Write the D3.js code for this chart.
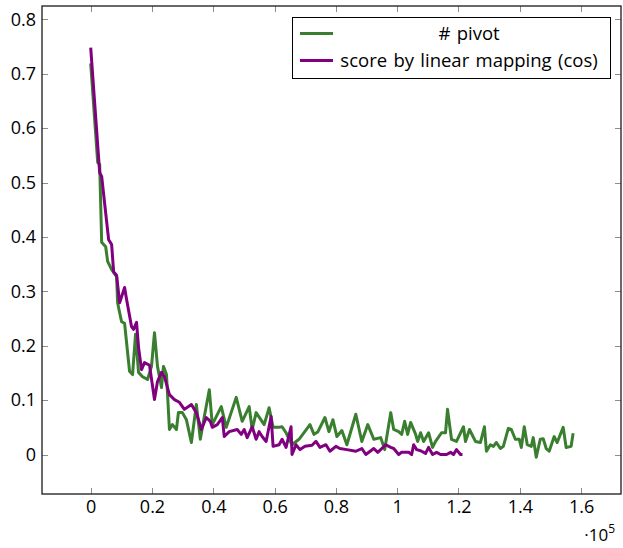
<!DOCTYPE html>
<html><head><meta charset="utf-8">
<script src="https://cdn.jsdelivr.net/npm/d3@7"></script>
<style>body{margin:0;background:#fff}svg{display:block}text{font-family:"Open Sans",sans-serif}</style>
</head><body><svg id="c" width="623" height="548"></svg>
<script>
const seriesNames = ["# pivot", "score by linear mapping (cos)"];
const seriesColors = ["#3a7f30", "#800080"];
const xTicks = [0, 20000, 40000, 60000, 80000, 100000, 120000, 140000, 160000];
const xTickLabels = ["0", "0.2", "0.4", "0.6", "0.8", "1", "1.2", "1.4", "1.6"];
const yTicks = [0, 0.1, 0.2, 0.3, 0.4, 0.5, 0.6, 0.7, 0.8];
const yTickLabels = ["0", "0.1", "0.2", "0.3", "0.4", "0.5", "0.6", "0.7", "0.8"];
const pivot = [[0,0.719],[2280,0.537],[2930,0.533],[3580,0.390],[4880,0.382],[5530,0.355],[6830,0.340],[7480,0.335],[8460,0.327],[8780,0.279],[9430,0.261],[10080,0.244],[11060,0.241],[12030,0.188],[12680,0.153],[13660,0.147],[14630,0.221],[15610,0.151],[16910,0.143],[18540,0.138],[19840,0.162],[20810,0.224],[21790,0.162],[23090,0.123],[23740,0.162],[24720,0.147],[25690,0.046],[26670,0.055],[27970,0.046],[28620,0.077],[29920,0.077],[31220,0.064],[32850,0.022],[34470,0.092],[35770,0.028],[37070,0.070],[38700,0.119],[39670,0.055],[42600,0.088],[44230,0.050],[47480,0.105],[49430,0.061],[51710,0.088],[52680,0.046],[53980,0.077],[56590,0.055],[58210,0.086],[59510,0.050],[61460,0.050],[62440,0.051],[63740,0.040],[65690,0.018],[67970,0.028],[71540,0.055],[72850,0.037],[74150,0.042],[76420,0.068],[77720,0.042],[79020,0.064],[80330,0.033],[81950,0.044],[83580,0.018],[86500,0.074],[88460,0.024],[90410,0.055],[92360,0.028],[94630,0.031],[95930,0.009],[97890,0.077],[98860,0.046],[100490,0.042],[101460,0.037],[102440,0.061],[103410,0.037],[104390,0.059],[106020,0.037],[106670,0.024],[107640,0.040],[108620,0.024],[110240,0.040],[111540,0.013],[112520,0.024],[114470,0.040],[115770,0.040],[116420,0.083],[117720,0.028],[119350,0.024],[121630,0.051],[122280,0.024],[123580,0.046],[125530,0.024],[127150,0.022],[128460,0.051],[129110,0.006],[130410,0.018],[131380,0.015],[132360,0.022],[133660,0.011],[134630,0.015],[136260,0.048],[137240,0.046],[138540,0.028],[139840,0.028],[140490,0.013],[141460,0.051],[142440,0.018],[143740,0.015],[144390,0.031],[145370,-0.005],[146670,0.028],[147640,0.029],[148620,0.011],[149590,0.006],[151220,0.033],[152200,0.022],[154150,0.050],[155120,0.013],[156750,0.015],[157400,0.039]];
const score = [[0,0.748],[2930,0.518],[3580,0.511],[5850,0.395],[6830,0.386],[7480,0.336],[8460,0.329],[9430,0.279],[10080,0.290],[11060,0.307],[11710,0.285],[13330,0.235],[13980,0.230],[14960,0.243],[15610,0.197],[16590,0.156],[17560,0.169],[19190,0.164],[20810,0.101],[21790,0.134],[23090,0.151],[24070,0.143],[25690,0.110],[27320,0.101],[28940,0.096],[30570,0.083],[32850,0.092],[34470,0.077],[36100,0.046],[37720,0.068],[39020,0.061],[39670,0.050],[41300,0.055],[42930,0.068],[43580,0.033],[45200,0.042],[47800,0.046],[49110,0.037],[50080,0.046],[51060,0.031],[52680,0.051],[53980,0.028],[54960,0.042],[55930,0.033],[57240,0.024],[58860,0.070],[59510,0.015],[61460,0.018],[62440,0.028],[63740,0.013],[65370,0.051],[65690,0.000],[66990,0.018],[68290,0.009],[69920,0.015],[72200,0.017],[73500,0.024],[74800,0.013],[76750,0.018],[78050,0.006],[80000,0.015],[81300,0.011],[83580,0.009],[86500,0.006],[88460,0.011],[89760,0.000],[92360,0.011],[93660,0.004],[96260,0.018],[97890,0.013],[98860,0.011],[100490,0.000],[101460,0.004],[103740,0.004],[104720,0.000],[105370,0.018],[106340,0.009],[107640,0.007],[109270,0.002],[110240,0.013],[111540,0.000],[112850,0.004],[114150,0.000],[116100,0.000],[117400,0.004],[118370,0.000],[119350,0.009],[120650,0.000],[121300,0.000]];

const L = 42, R = 621, T = 6, B = 494;
const FS = 18;
const svg = d3.select("#c");
const x = d3.scaleLinear().domain([-15890, 173020]).range([L, R]);
const y = d3.scaleLinear().domain([-0.0726, 0.8245]).range([B, T]);
const tickLen = 6;

// ticks (inside, on all four sides)
const tg = svg.append("g").attr("stroke", "#8c8c8c").attr("stroke-width", 1);
xTicks.forEach(v => {
  const px = Math.round(x(v)) + 0.5;
  tg.append("line").attr("x1", px).attr("x2", px).attr("y1", B).attr("y2", B - tickLen);
  tg.append("line").attr("x1", px).attr("x2", px).attr("y1", T).attr("y2", T + tickLen);
});
yTicks.forEach(v => {
  const py = Math.round(y(v)) + 0.5;
  tg.append("line").attr("x1", L).attr("x2", L + tickLen).attr("y1", py).attr("y2", py);
  tg.append("line").attr("x1", R).attr("x2", R - tickLen).attr("y1", py).attr("y2", py);
});

// axes via d3 axis for labels
const xAxis = d3.axisBottom(x).tickValues(xTicks).tickSize(0).tickPadding(6)
  .tickFormat((d, i) => xTickLabels[i]);
const gx = svg.append("g").attr("transform", `translate(0,${B})`).call(xAxis);
gx.select(".domain").remove();
gx.selectAll("text").attr("font-size", FS).attr("fill", "#000").style("font-family", '"Open Sans",sans-serif');
const yAxis = d3.axisLeft(y).tickValues(yTicks).tickSize(0).tickPadding(6)
  .tickFormat((d, i) => yTickLabels[i]);
const gy = svg.append("g").attr("transform", `translate(${L},0)`).call(yAxis);
gy.select(".domain").remove();
gy.selectAll("text").attr("font-size", FS).attr("fill", "#000").style("font-family", '"Open Sans",sans-serif');

// series
const line = d3.line().x(d => x(d[0])).y(d => y(d[1]));
[pivot, score].forEach((data, i) => {
  svg.append("path").datum(data).attr("d", line).attr("fill", "none")
    .attr("stroke", seriesColors[i]).attr("stroke-width", 3).attr("stroke-linejoin", "round");
});

// frame
svg.append("rect").attr("x", L).attr("y", T).attr("width", R - L).attr("height", B - T)
  .attr("fill", "none").attr("stroke", "#1a1a1a").attr("stroke-width", 1.3);

// exponent label
const ex = svg.append("text").attr("x", 615).attr("y", 541).attr("text-anchor", "end").attr("font-size", 17);
ex.append("tspan").text("·10");
ex.append("tspan").attr("font-size", 12).attr("dy", -8).text("5");

// legend
const lg = svg.append("g");
lg.append("rect").attr("x", 292.5).attr("y", 17.5).attr("width", 318).attr("height", 61)
  .attr("fill", "#fff").attr("stroke", "#000").attr("stroke-width", 1);
const rows = [33.5, 60.5];
seriesNames.forEach((name, i) => {
  lg.append("line").attr("x1", 300).attr("x2", 333).attr("y1", rows[i]).attr("y2", rows[i])
    .attr("stroke", seriesColors[i]).attr("stroke-width", 3);
  lg.append("text").attr("x", 469).attr("y", rows[i]).attr("dy", "0.35em")
    .attr("text-anchor", "middle").attr("font-size", 18.5).attr("word-spacing", 1.5).text(name);
});
</script></body></html>
